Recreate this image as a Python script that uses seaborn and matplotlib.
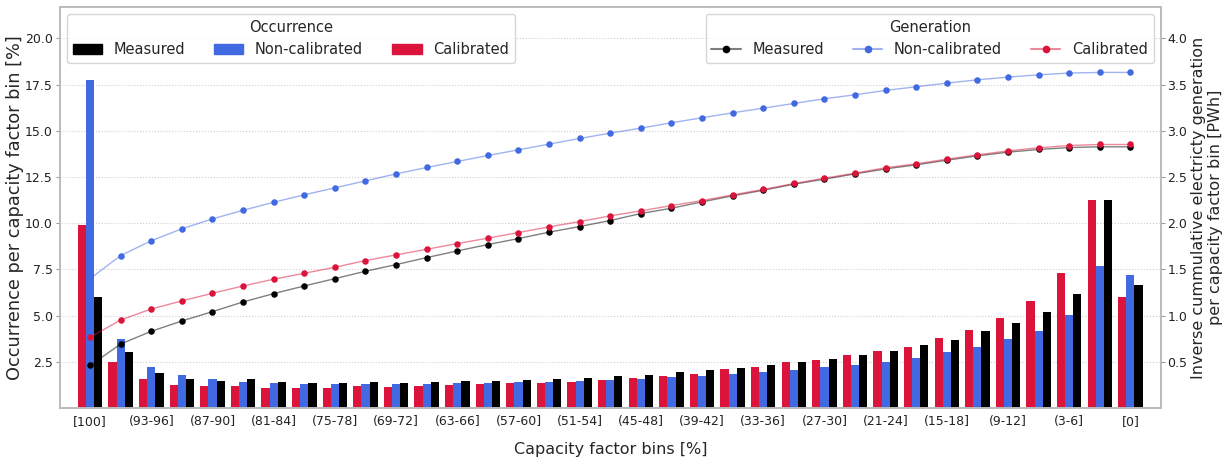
import numpy as np
import pandas as pd
import matplotlib
matplotlib.use('Agg')
import matplotlib.pyplot as plt
import seaborn as sns
from matplotlib.lines import Line2D
from matplotlib.patches import Patch

# capacity factor bins, from 100% down to 0%
bins = ['[100]', '(96-100)', '(93-96]', '(90-93]', '(87-90]', '(84-87]', '(81-84]',
        '(78-81]', '(75-78]', '(72-75]', '(69-72]', '(66-69]', '(63-66]', '(60-63]',
        '(57-60]', '(54-57]', '(51-54]', '(48-51]', '(45-48]', '(42-45]', '(39-42]',
        '(36-39]', '(33-36]', '(30-33]', '(27-30]', '(24-27]', '(21-24]', '(18-21]',
        '(15-18]', '(12-15]', '(9-12]', '(6-9]', '(3-6]', '(0-3]', '[0]']

# occurrence per bin [%]
occ_measured = [6.02, 3.01, 1.87, 1.59, 1.48, 1.55, 1.41, 1.37, 1.37, 1.39, 1.37, 1.405,
                1.44, 1.46, 1.50, 1.57, 1.62, 1.71, 1.80, 1.96, 2.04, 2.18, 2.34, 2.49,
                2.67, 2.88, 3.08, 3.39, 3.69, 4.16, 4.58, 5.19, 6.18, 11.24, 6.65]
occ_noncal = [17.77, 3.71, 2.20, 1.77, 1.55, 1.42, 1.35, 1.30, 1.30, 1.30, 1.315, 1.315,
              1.33, 1.35, 1.39, 1.405, 1.46, 1.51, 1.585, 1.68, 1.75, 1.84, 1.95, 2.07,
              2.20, 2.34, 2.49, 2.68, 3.01, 3.32, 3.71, 4.16, 5.05, 7.69, 7.19]
occ_cal = [9.93, 2.50, 1.59, 1.26, 1.17, 1.17, 1.10, 1.08, 1.08, 1.19, 1.135, 1.19,
           1.225, 1.28, 1.33, 1.35, 1.42, 1.50, 1.60, 1.75, 1.86, 2.09, 2.20, 2.49,
           2.61, 2.88, 3.08, 3.28, 3.78, 4.23, 4.85, 5.77, 7.33, 11.26, 5.98]

# inverse cumulative generation [PWh]
gen_measured = [0.46, 0.693, 0.83, 0.942, 1.043, 1.148, 1.238, 1.321, 1.40, 1.48, 1.552,
                1.628, 1.70, 1.769, 1.834, 1.903, 1.964, 2.029, 2.105, 2.162, 2.231, 2.296,
                2.357, 2.422, 2.477, 2.534, 2.588, 2.632, 2.682, 2.729, 2.769, 2.798,
                2.819, 2.827, 2.827]
gen_noncal = [1.40, 1.65, 1.81, 1.94, 2.047, 2.14, 2.227, 2.307, 2.383, 2.458, 2.534,
              2.603, 2.668, 2.733, 2.794, 2.856, 2.917, 2.975, 3.029, 3.087, 3.141, 3.195,
              3.245, 3.296, 3.347, 3.39, 3.437, 3.477, 3.516, 3.552, 3.581, 3.606, 3.625,
              3.632, 3.632]
gen_cal = [0.765, 0.953, 1.072, 1.159, 1.242, 1.321, 1.394, 1.458, 1.523, 1.596, 1.657,
           1.718, 1.78, 1.838, 1.899, 1.96, 2.018, 2.079, 2.134, 2.191, 2.245, 2.307,
           2.365, 2.43, 2.487, 2.542, 2.60, 2.643, 2.693, 2.74, 2.783, 2.816, 2.841,
           2.852, 2.852]

series = ['Measured', 'Non-calibrated', 'Calibrated']
colors = {'Measured': 'black', 'Non-calibrated': 'royalblue', 'Calibrated': 'crimson'}

sns.set_theme(style='whitegrid')
plt.rcParams['font.family'] = ['DejaVu Sans']

occ = pd.DataFrame({'bin': bins * 3,
                    'value': occ_measured + occ_noncal + occ_cal,
                    'series': np.repeat(series, len(bins))})

fig = plt.figure(figsize=(12.26, 4.61), dpi=100)
ax = fig.add_axes([59.5 / 1226, 1 - 408 / 461, 1101.5 / 1226, 401 / 461])

sns.barplot(data=occ, x='bin', y='value', hue='series', order=bins,
            hue_order=['Calibrated', 'Non-calibrated', 'Measured'],
            palette=colors, saturation=1, linewidth=0, width=0.8, ax=ax, legend=False)

ax2 = ax.twinx()
idx = np.arange(len(bins))
for name, vals in [('Measured', gen_measured), ('Non-calibrated', gen_noncal), ('Calibrated', gen_cal)]:
    sns.lineplot(x=idx, y=vals, color=colors[name], alpha=0.5, lw=1, ax=ax2)
    sns.scatterplot(x=idx, y=vals, color=colors[name], s=22, linewidth=0, ax=ax2, zorder=3)

ax.set_xlim(-1, 35)
ax.set_ylim(0, 21.7)
ax2.set_ylim(0, 4.34)
ax.set_yticks([2.5, 5.0, 7.5, 10.0, 12.5, 15.0, 17.5, 20.0])
ax2.set_yticks([0.5, 1.0, 1.5, 2.0, 2.5, 3.0, 3.5, 4.0])
ax.set_xticks(idx)
ax.set_xticklabels([b if i % 2 == 0 else '' for i, b in enumerate(bins)])

ax.grid(axis='x', visible=False)
ax.grid(axis='y', linestyle=':', color='#cfcfcf', lw=0.8)
ax2.grid(False)
for a in (ax, ax2):
    a.tick_params(length=3, width=0.8, pad=2, color='#999999', labelsize=9, labelcolor='#222222')
    for s in a.spines.values():
        s.set_color('#bbbbbb')
ax2.tick_params(axis='y', pad=1.5)

ax.set_xlabel('Capacity factor bins [%]', fontsize=11.5, labelpad=10)
ax.set_ylabel('Occurrence per capacity factor bin [%]', fontsize=12.8, labelpad=0.5)
ax2.set_ylabel('Inverse cummulative electricty generation\nper capacity factor bin [PWh]',
               fontsize=11.5, labelpad=3, linespacing=1.1)

bar_handles = [Patch(color=colors[s]) for s in series]
leg1 = ax2.legend(bar_handles, series, title='Occurrence', ncol=3, loc='upper left',
                  fontsize=10.5, title_fontsize=10.5)
ax2.add_artist(leg1)
line_handles = [Line2D([], [], color=matplotlib.colors.to_rgba(colors[s], 0.5), lw=1.5,
                       marker='o', markersize=4.5, markerfacecolor=colors[s],
                       markeredgecolor=colors[s]) for s in series]
ax2.legend(line_handles, series, title='Generation', ncol=3, loc='upper right',
           fontsize=10.5, title_fontsize=10.5)

fig.savefig('out.png', dpi=100)
